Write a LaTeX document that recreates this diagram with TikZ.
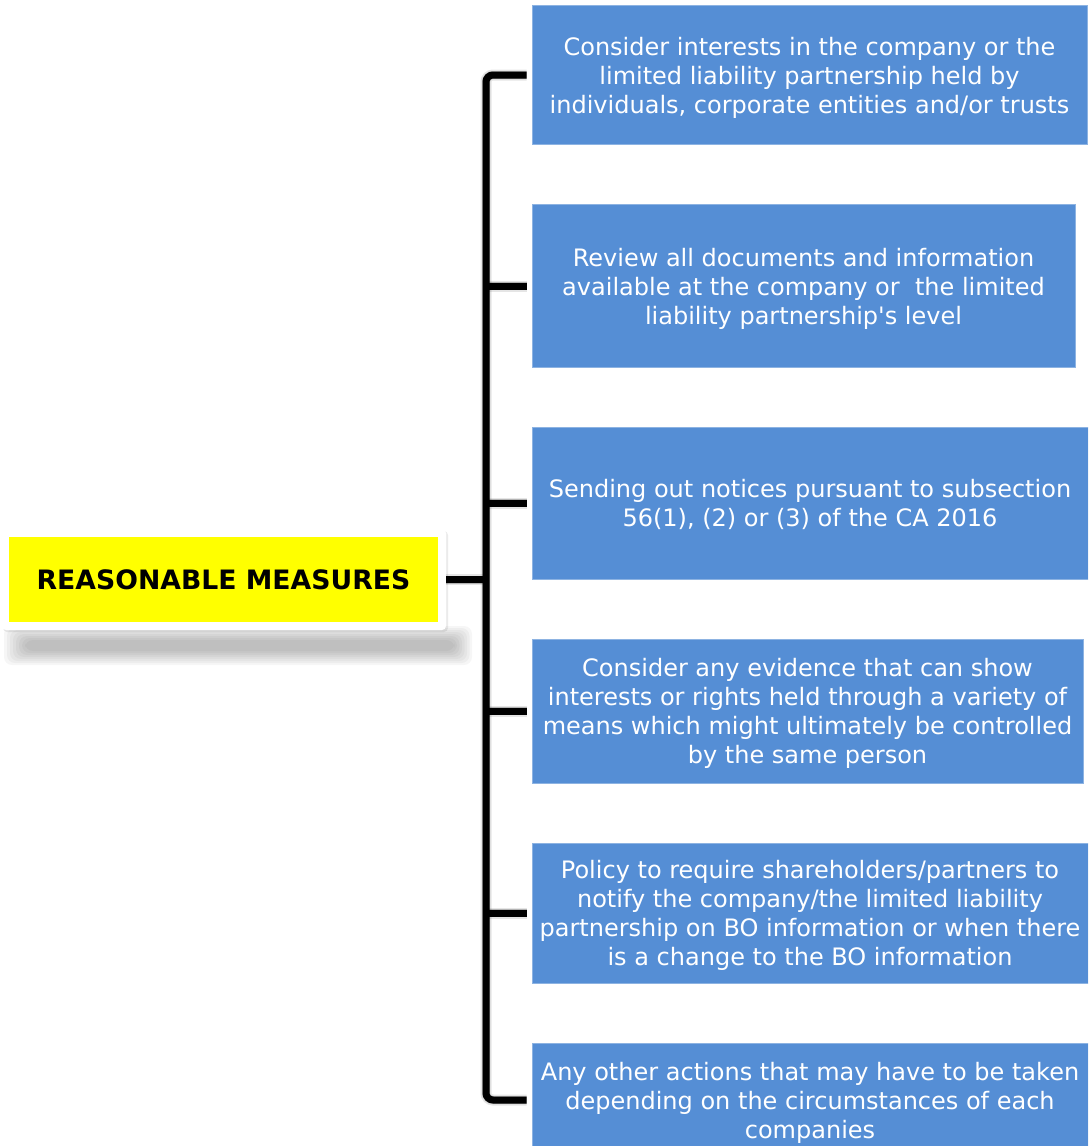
\documentclass[tikz,border=0pt]{standalone}
\usepackage{fontspec}
\setmainfont{DejaVu Sans}[Ligatures=TeXOff]
\definecolor{boxblue}{HTML}{558ED5}
\definecolor{boxedge}{HTML}{8DB3E2}
\definecolor{titleyellow}{HTML}{FFFF00}
\begin{document}
\begin{tikzpicture}[x=1pt,y=-1pt,
  measure/.style={fill=boxblue, draw=boxedge, line width=0.8pt, text=white,
    align=center, inner sep=0pt, text depth=0pt, font=\fontsize{24}{29}\selectfont},
  heading/.style={fill=titleyellow, text=black, inner sep=0pt,
    font=\bfseries\fontsize{26.7}{30}\selectfont},
  bracket/.style={line width=7pt, black},
  bracketglow/.style={line width=11pt, black, opacity=0.10, shift={(1.5,2.5)}},
  bracketshadow/.style={line width=8pt, black, opacity=0.22, shift={(2,3)}},
  softlayer/.style={fill=black, opacity=0.035, rounded corners=8pt},
]
\useasboundingbox (0,0) rectangle (1088,1146);
\clip (0,0) rectangle (1088,1146);

% blurred shadow cast below the heading
\foreach \i in {0,...,7}
  \fill[softlayer] (4+3*\i,626+2*\i) rectangle (472-2.5*\i,665-2*\i);

% white frame behind the heading
\fill[black, opacity=0.08, rounded corners=4pt] (3,531) rectangle (448,632);
\fill[white, rounded corners=4pt] (2,529) rectangle (446,630);

\node[heading, minimum width=429, minimum height=85] (title) at (223.5,579.5)
  {REASONABLE MEASURES};

% measures
\node[measure, minimum width=555, minimum height=139] (m1) at (809.5,75)
  {Consider interests in the company or the\\limited liability partnership held by\\individuals, corporate entities and/or trusts};
\node[measure, minimum width=543, minimum height=163] (m2) at (803.5,286)
  {Review all documents and information\\available at the company or\ \ the limited\\liability partnership's level};
\node[measure, minimum width=556, minimum height=152] (m3) at (810,503)
  {Sending out notices pursuant to subsection\\56(1), (2) or (3) of the CA 2016};
\node[measure, minimum width=551, minimum height=144] (m4) at (807.5,711)
  {Consider any evidence that can show\\interests or rights held through a variety of\\means which might ultimately be controlled\\by the same person};
\node[measure, minimum width=556, minimum height=140] (m5) at (810,913)
  {Policy to require shareholders/partners to\\notify the company/the limited liability\\partnership on BO information or when there\\is a change to the BO information};
\node[measure, minimum width=556, minimum height=114] (m6) at (810,1100)
  {Any other actions that may have to be taken\\depending on the circumstances of each\\companies};

% bracket joining the heading to every measure
\coordinate (spine) at (486,0);
\foreach \layer in {bracketglow,bracketshadow,bracket} {
  \draw[\layer, rounded corners=7pt, shorten <=5pt, shorten >=5pt]
    (m1.west) -- (m1.west -| spine) -- (m6.west -| spine) -- (m6.west);
  \foreach \m in {m2,m3,m4,m5}
    \draw[\layer, shorten >=5pt] (\m.west -| spine) -- (\m.west);
  \draw[\layer, shorten <=8pt] (title.east) -- (title.east -| spine);
}
\end{tikzpicture}
\end{document}
